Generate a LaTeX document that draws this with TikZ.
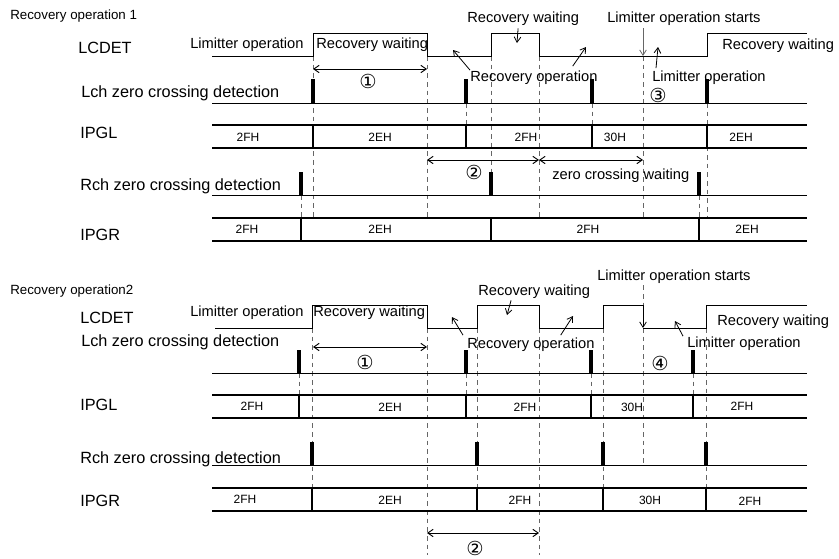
\documentclass[tikz,border=0pt]{standalone}
\usepackage{fontspec}
\setmainfont{Liberation Sans}
\newfontfamily\circfont{DejaVu Sans}
\usetikzlibrary{calc,arrows.meta}
\tikzset{
  heading/.style={anchor=base west, inner sep=0pt, font=\fontsize{10}{12}\selectfont},
  sig/.style={anchor=base west, inner sep=0pt, font=\fontsize{12.2}{14}\selectfont},
  phase/.style={anchor=base west, inner sep=0pt, font=\fontsize{11}{13}\selectfont},
  hex/.style={inner sep=0pt, font=\fontsize{9}{10}\selectfont},
  circnum/.style={inner sep=0pt, font=\circfont\fontsize{14.5}{16}\selectfont},
  wave/.style={line width=0.75pt},
  bus/.style={line width=1.6pt},
  pulse/.style={line width=2.3pt},
  divider/.style={line width=1.1pt},
  guide/.style={black!60, line width=0.6pt, dash pattern=on 3.5pt off 3pt},
  span/.style={{Straight Barb[length=4pt,width=5.5pt]}-{Straight Barb[length=4pt,width=5.5pt]}, line width=0.7pt},
  pointer/.style={-{Straight Barb[length=4pt,width=5pt]}, line width=0.6pt}
}
\begin{document}
\begin{tikzpicture}[x=0.75pt, y=-0.75pt]
\useasboundingbox (0,0) rectangle (839,558);
% ---------- Recovery operation 1 ----------
\node[heading] (title1) at (10,19) {Recovery operation 1};
\node[sig] (lcdet1) at (78,53) {LCDET};
\node[sig] (lch1) at (81,97) {Lch zero crossing detection};
\node[sig] (ipgl1) at (80,138) {IPGL};
\node[sig] (rch1) at (80,190) {Rch zero crossing detection};
\node[sig] (ipgr1) at (80,240) {IPGR};
% timing guides
\draw[guide] (313,56) -- (313,218) (301,195) -- (301,218) (427,56) -- (427,218) (466,103) -- (466,125)
  (491,56) -- (491,172) (539,56) -- (539,218) (592,103) -- (592,125) (643,56) -- (643,218)
  (707,103) -- (707,218) (699,195) -- (699,218);
% LCDET
\draw[wave] (212,56) -- (313,56) -- (313,33) -- (427,33) -- (427,56) -- (491,56) -- (491,33) -- (539,33)
  -- (539,56) -- (707,56) -- (707,33) -- (807,33);
% Lch
\draw[wave] (212,103) -- (807,103);
\draw[pulse] (313,79) -- (313,103) (466,79) -- (466,103) (592,79) -- (592,103) (707,79) -- (707,103);
% IPGL
\draw[bus] (212,125) -- (807,125) (212,148) -- (807,148);
\draw[divider] (313,125) -- (313,148) (466,125) -- (466,148) (592,125) -- (592,148) (707,125) -- (707,148);
\node[hex] (gl1a) at (248,137) {2FH};
\node[hex] (gl1b) at (380,137) {2EH};
\node[hex] (gl1c) at (526,137) {2FH};
\node[hex] (gl1d) at (615,137) {30H};
\node[hex] (gl1e) at (741,137) {2EH};
% Rch
\draw[wave] (212,195) -- (807,195);
\draw[pulse] (301,172) -- (301,195) (491,172) -- (491,195) (699,172) -- (699,195);
% IPGR
\draw[bus] (212,218) -- (807,218) (212,241) -- (807,241);
\draw[divider] (301,218) -- (301,241) (491,218) -- (491,241) (699,218) -- (699,241);
\node[hex] (gr1a) at (247,229) {2FH};
\node[hex] (gr1b) at (380,229) {2EH};
\node[hex] (gr1c) at (588,229) {2FH};
\node[hex] (gr1d) at (747,229) {2EH};
% states
\node[phase] (limop1) at (190,48) {Limitter operation};
\node[phase] (recw1) at (316,48) {Recovery waiting};
\node[phase] (recw1b) at (467,22) {Recovery waiting};
\node[phase] (limst1) at (607,22) {Limitter operation starts};
\node[phase] (recop1) at (470,81) {Recovery operation};
\node[phase] (limop1b) at (652,81) {Limitter operation};
\node[phase] (recw1c) at (722,49) {Recovery waiting};
\node[phase] (zcw1) at (552,179) {zero crossing waiting};
\node[circnum] (n1a) at (368,81) {①};
\node[circnum] (n2a) at (474,172) {②};
\node[circnum] (n3a) at (658,95) {③};
\coordinate (w1a) at (517,43);
\coordinate (w1b) at (643,56);
\coordinate (w1c) at (453,50);
\coordinate (w1d) at (586,47);
\coordinate (w1e) at (658,47);
\draw[pointer] ($(recw1b.south)+(-5,3)$) -- (w1a);
\draw[pointer, black!60] ($(limst1.south west)+(36,3)$) -- (w1b);
\draw[pointer] (recop1.north west) -- (w1c);
\draw[pointer] ($(recop1.north east)+(-25,-4)$) -- (w1d);
\draw[pointer] ($(limop1b.north west)+(4,-2)$) -- (w1e);
\coordinate (s1a) at (313,69);
\coordinate (s1b) at (427,69);
\coordinate (s2a) at (427,160);
\coordinate (s2b) at (539,160);
\coordinate (s3b) at (643,160);
\draw[span] (s1a) -- (s1b);
\draw[span] (s2a) -- (s2b);
\draw[span] (s2b) -- (s3b);
% ---------- Recovery operation 2 ----------
\node[heading] (title2) at (10,294) {Recovery operation2};
\node[sig] (lcdet2) at (80,323) {LCDET};
\node[sig] (lch2) at (81,346) {Lch zero crossing detection};
\node[sig] (ipgl2) at (80,410) {IPGL};
\node[sig] (rch2) at (80,463) {Rch zero crossing detection};
\node[sig] (ipgr2) at (80,506) {IPGR};
% timing guides
\draw[guide] (312,328) -- (312,488) (299,373) -- (299,395) (427,328) -- (427,555) (466,373) -- (466,395)
  (477,328) -- (477,488) (539,328) -- (539,555) (591,373) -- (591,395) (603,328) -- (603,488)
  (643,328) -- (643,465) (693,373) -- (693,395) (706,328) -- (706,488);
% LCDET
\draw[wave] (215,328) -- (312,328) -- (312,305) -- (427,305) -- (427,328) -- (477,328) -- (477,305) -- (539,305)
  -- (539,328) -- (603,328) -- (603,305) -- (643,305) (643,328) -- (706,328) -- (706,305) -- (807,305);
% Lch
\draw[wave] (212,373) -- (807,373);
\draw[pulse] (299,350) -- (299,373) (466,350) -- (466,373) (591,350) -- (591,373) (693,350) -- (693,373);
% IPGL
\draw[bus] (212,395) -- (807,395) (212,418) -- (807,418);
\draw[divider] (299,395) -- (299,418) (466,395) -- (466,418) (591,395) -- (591,418) (693,395) -- (693,418);
\node[hex] (gl2a) at (252,406) {2FH};
\node[hex] (gl2b) at (390,407) {2EH};
\node[hex] (gl2c) at (525,407) {2FH};
\node[hex] (gl2d) at (632,407) {30H};
\node[hex] (gl2e) at (742,406) {2FH};
% Rch
\draw[wave] (212,465) -- (807,465);
\draw[pulse] (312,442) -- (312,465) (477,442) -- (477,465) (603,442) -- (603,465) (706,442) -- (706,465);
% IPGR
\draw[bus] (212,488) -- (807,488) (212,511) -- (807,511);
\draw[divider] (312,488) -- (312,511) (477,488) -- (477,511) (603,488) -- (603,511) (706,488) -- (706,511);
\node[hex] (gr2a) at (245,499) {2FH};
\node[hex] (gr2b) at (390,500) {2EH};
\node[hex] (gr2c) at (520,500) {2FH};
\node[hex] (gr2d) at (650,500) {30H};
\node[hex] (gr2e) at (750,501) {2FH};
% states
\node[phase] (limop2) at (190,316) {Limitter operation};
\node[phase] (recw2) at (313,316) {Recovery waiting};
\node[phase] (recw2b) at (478,295) {Recovery waiting};
\node[phase] (limst2) at (597,280) {Limitter operation starts};
\node[phase] (recop2) at (467,348) {Recovery operation};
\node[phase] (limop2b) at (687,347) {Limitter operation};
\node[phase] (recw2c) at (717,325) {Recovery waiting};
\node[circnum] (n1b) at (365,362) {①};
\node[circnum] (n2b) at (475,548) {②};
\node[circnum] (n4b) at (660,363) {④};
\coordinate (w2a) at (507,315);
\coordinate (e2a) at (643,305);
\coordinate (e2b) at (643,328);
\coordinate (w2c) at (452,317);
\coordinate (w2d) at (573,316);
\coordinate (w2e) at (675,321);
\draw[pointer] ($(recw2b.south)+(-23,2)$) -- (w2a);
\draw[guide] ($(limst2.south west)+(46,2)$) -- (e2a);
\draw[pointer] (e2a) -- (e2b);
\draw[pointer] ($(recop2.north west)+(-4,-2)$) -- (w2c);
\draw[pointer] ($(recop2.north east)+(-34,-2)$) -- (w2d);
\draw[pointer] ($(limop2b.north west)+(-4,0)$) -- (w2e);
\coordinate (t1a) at (313,347);
\coordinate (t1b) at (427,347);
\coordinate (t2a) at (427,533);
\coordinate (t2b) at (539,533);
\draw[span] (t1a) -- (t1b);
\draw[span] (t2a) -- (t2b);
\end{tikzpicture}
\end{document}
